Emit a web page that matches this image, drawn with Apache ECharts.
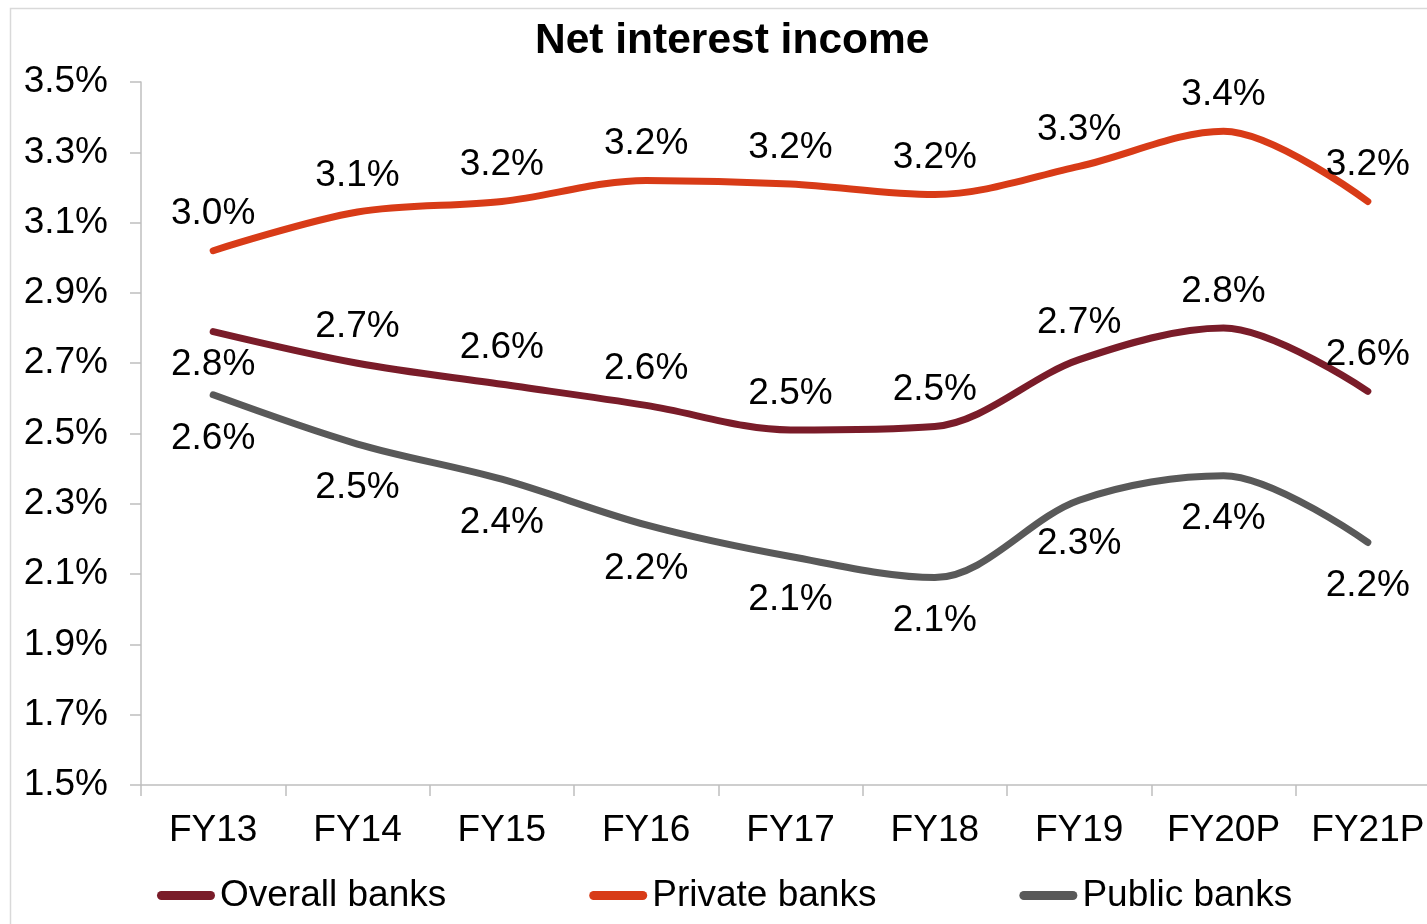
<!DOCTYPE html>
<html>
<head>
<meta charset="utf-8">
<title>Net interest income</title>
<script src="https://cdn.jsdelivr.net/npm/echarts@6/dist/echarts.min.js"></script>
<style>
  html, body { margin: 0; padding: 0; background: #ffffff; }
  #chart { width: 1427px; height: 924px; }
</style>
</head>
<body>
<div id="chart"></div>
<script>
// Net interest margin by bank group, % of assets
const categories = ['FY13', 'FY14', 'FY15', 'FY16', 'FY17', 'FY18', 'FY19', 'FY20P', 'FY21P'];
const overallBanks = [2.79, 2.70, 2.64, 2.58, 2.51, 2.52, 2.71, 2.80, 2.62];
const privateBanks = [3.02, 3.13, 3.16, 3.22, 3.21, 3.18, 3.26, 3.36, 3.16];
const publicBanks = [2.61, 2.47, 2.37, 2.24, 2.15, 2.09, 2.31, 2.38, 2.19];
const yTicks = { min: 1.5, max: 3.5, step: 0.2 };

const FONT = "'Liberation Sans', Arial, sans-serif";
const TEXT_SIZE = 37;
const pct = v => v.toFixed(1) + '%';
const LABEL_GAP = { top: 17, bottom: 24 };

function labelled(values, position, overrides) {
  return values.map((v, i) => {
    const o = (overrides && overrides[i]) || {};
    const pos = o.position || position;
    return { value: v, label: { position: pos, distance: o.distance != null ? o.distance : LABEL_GAP[pos] } };
  });
}

function lineSeries(name, color, data) {
  return {
    name: name,
    type: 'line',
    smooth: 0.33,
    data: data,
    symbol: 'circle',
    symbolSize: 2,
    showSymbol: true,
    itemStyle: { color: color },
    lineStyle: { color: color, width: 7, cap: 'round', join: 'round' },
    label: {
      show: true,
      color: '#000000',
      fontFamily: FONT,
      fontSize: TEXT_SIZE,
      formatter: p => pct(p.value)
    },
    emphasis: { disabled: true },
    z: 2
  };
}

const chart = echarts.init(document.getElementById('chart'), null, { renderer: 'canvas' });

chart.setOption({
  backgroundColor: '#ffffff',
  animation: false,
  title: {
    text: 'Net interest income',
    left: 530,
    top: 15,
    textStyle: { fontFamily: FONT, fontSize: 42.5, fontWeight: 'bold', color: '#000000' }
  },
  graphic: [{
    type: 'rect',
    left: 8,
    top: 6,
    shape: { width: 1500, height: 1000 },
    style: { fill: null, stroke: '#d9d9d9', lineWidth: 1.5 },
    silent: true,
    z: -1
  }],
  legend: {
    left: 152,
    top: 872,
    itemWidth: 58,
    itemHeight: 9,
    itemGap: 143,
    icon: 'path://M4.5,0 H53.5 A4.5,4.5 0 0 1 53.5,9 H4.5 A4.5,4.5 0 0 1 4.5,0 Z',
    textStyle: { fontFamily: FONT, fontSize: TEXT_SIZE, color: '#000000' },
    data: ['Overall banks', 'Private banks', 'Public banks']
  },
  grid: { left: 141, top: 82, width: 1299, height: 703, containLabel: false, outerBoundsMode: 'none' },
  xAxis: {
    type: 'category',
    data: categories,
    boundaryGap: true,
    axisLine: { lineStyle: { color: '#bfbfbf', width: 1.5 } },
    axisTick: { show: true, length: 11, interval: 0, lineStyle: { color: '#bfbfbf', width: 1.5 } },
    axisLabel: { margin: 27, interval: 0, fontFamily: FONT, fontSize: TEXT_SIZE, color: '#000000' },
    splitLine: { show: false }
  },
  yAxis: {
    type: 'value',
    min: yTicks.min,
    max: yTicks.max,
    interval: yTicks.step,
    axisLine: { show: true, lineStyle: { color: '#bfbfbf', width: 1.5 } },
    axisTick: { show: true, length: 11, lineStyle: { color: '#bfbfbf', width: 1.5 } },
    axisLabel: { margin: 33, fontFamily: FONT, fontSize: TEXT_SIZE, color: '#000000', formatter: v => pct(v) },
    splitLine: { show: false }
  },
  series: [
    lineSeries('Overall banks', '#7a1c29', labelled(overallBanks, 'top', { 0: { position: 'bottom', distance: 14 } })),
    lineSeries('Private banks', '#d83b17', labelled(privateBanks, 'top')),
    lineSeries('Public banks', '#595959', labelled(publicBanks, 'bottom'))
  ]
});
</script>
</body>
</html>
